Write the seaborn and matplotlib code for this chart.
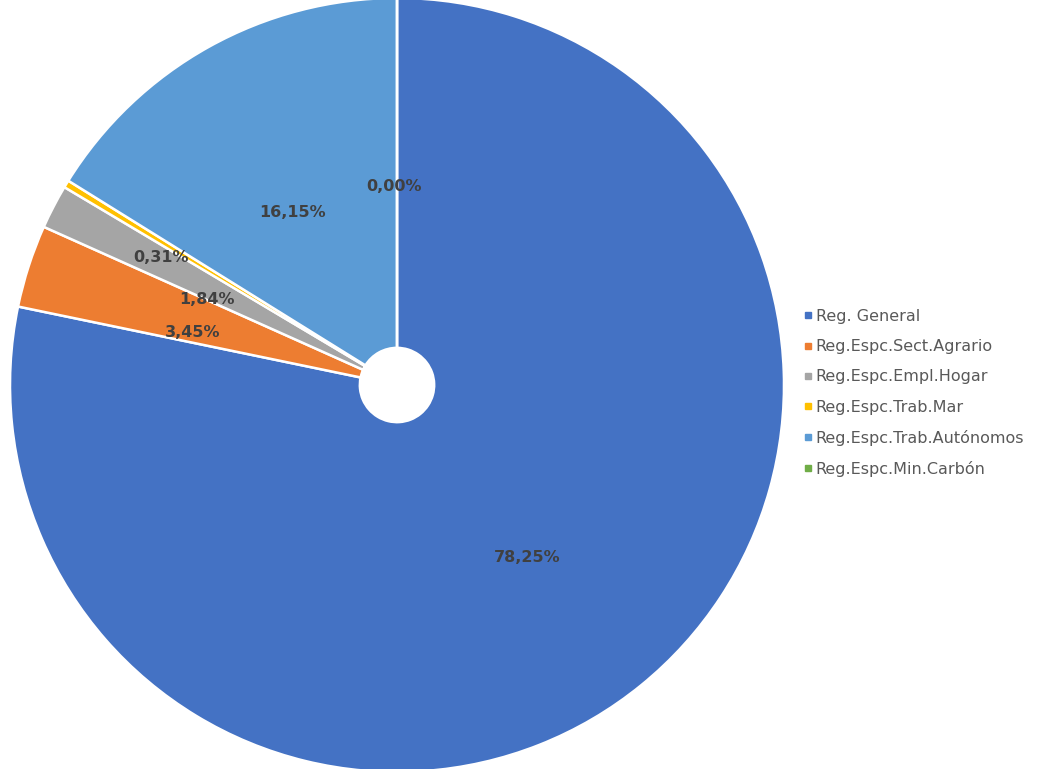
import numpy as np
import matplotlib
matplotlib.use("Agg")
import matplotlib.pyplot as plt
from matplotlib.lines import Line2D
import seaborn as sns

# Afiliación por régimen (%)
categories = [
    "Reg. General",
    "Reg.Espc.Sect.Agrario",
    "Reg.Espc.Empl.Hogar",
    "Reg.Espc.Trab.Mar",
    "Reg.Espc.Trab.Autónomos",
    "Reg.Espc.Min.Carbón",
]
shares = [78.25, 3.45, 1.84, 0.31, 16.15, 0.00]
share_labels = ["78,25%", "3,45%", "1,84%", "0,31%", "16,15%", "0,00%"]
colors = ["#4472C4", "#ED7D31", "#A5A5A5", "#FFC000", "#5B9BD5", "#70AD47"]

sns.set_theme(style="white")
plt.rcParams["font.family"] = ["DejaVu Sans"]

fig = plt.figure(figsize=(10.47, 7.69), dpi=100)
W, H = 1047, 769
cx, cy, r = 397, 385, 387
ax = fig.add_axes([(cx - r) / W, (H - cy - r) / H, 2 * r / W, 2 * r / H])

palette = sns.color_palette(colors)
hole = 0.096
wedges, _ = ax.pie(
    shares,
    colors=palette,
    startangle=90,
    counterclock=False,
    radius=1.0,
    wedgeprops=dict(width=1 - hole, edgecolor="white", linewidth=1.8),
)
ax.set_xlim(-1, 1)
ax.set_ylim(-1, 1)
ax.set_aspect("equal")
ax.axis("off")

# Percentage labels placed along each wedge's mid-angle, with small offsets
label_dist = [0.559, 0.542, 0.537, 0.691, 0.520, 0.512]
nudges = [(-0.017, -0.013), (-0.012, -0.032), (-0.014, -0.027),
          (-0.019, -0.029), (-0.018, -0.010), (-0.008, 0.0)]
total = sum(shares)
cum = 0.0
for val, txt, d, (nx, ny) in zip(shares, share_labels, label_dist, nudges):
    mid = (cum + val / 2) / total * 360.0
    cum += val
    theta = np.deg2rad(90 - mid)
    x = d * np.cos(theta) + nx
    y = d * np.sin(theta) + ny
    ax.text(x, y, txt, ha="center", va="center", fontsize=11.5,
            fontweight="bold", color="#404040")

handles = [Line2D([0], [0], marker="s", linestyle="none", markersize=4,
                  markerfacecolor=c, markeredgecolor=c) for c in colors]
fig.legend(handles, categories, loc="center left",
           bbox_to_anchor=(795 / W, 1 - 393 / H), frameon=False,
           fontsize=11.5, labelcolor="#595959", handletextpad=0.1,
           labelspacing=0.95, handlelength=0.8, borderaxespad=0)

fig.savefig("out.png", dpi=100, facecolor="white")
